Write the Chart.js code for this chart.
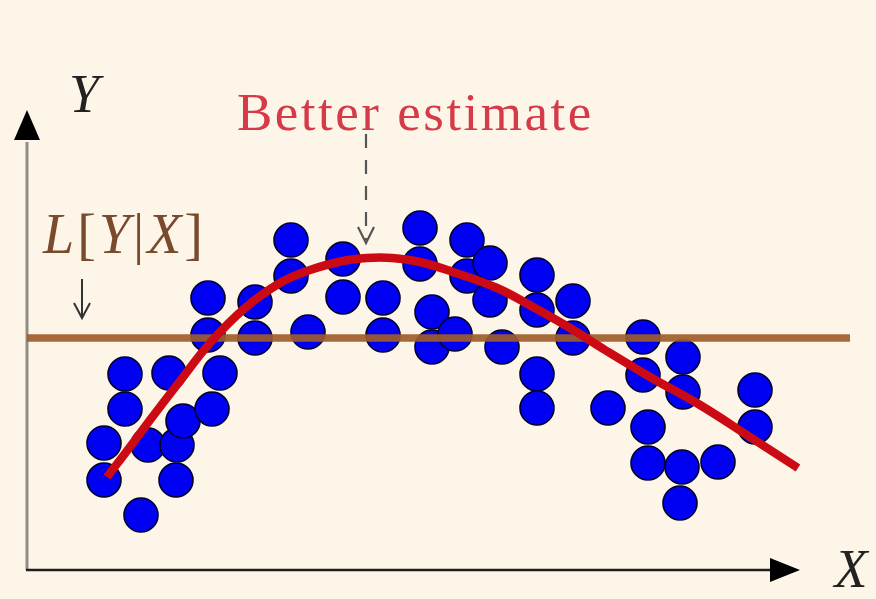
<!DOCTYPE html>
<html>
<head>
<meta charset="utf-8">
<script src="https://cdn.jsdelivr.net/npm/chart.js@4/dist/chart.umd.min.js"></script>
<style>
  html, body { margin: 0; padding: 0; background: #fdf6e8; }
  #wrap { width: 876px; height: 599px; position: relative; }
</style>
</head>
<body>
<div id="wrap"><canvas id="c"></canvas></div>
<script>
// Observations (X, Y)
const obsX = [98,98,77,77,114,121,142,150,149,156,185,193,
  181,181,228,228,264,264,281,316,316,356,356,
  393,393,405,405,428,440,440,463,463,475,
  510,510,510,510,546,546,581,
  616,616,656,656,728,728,621,621,655,653,691];
const obsY = [196,161,127,90,55,125,197,125,90,149,161,197,
  272,235,268,232,330,294,238,311,273,272,235,
  342,306,258,223,236,330,294,307,270,223,
  295,260,196,162,269,232,162,
  233,195,213,178,180,143,143,107,103,67,108];

// Better estimate curve
const curveX = [80,106,123,153,183,218,253,283,316,340,365,393,426,470,506,543,578,623,673,723,771];
const curveY = [93,127,150,189,227,262,287,300,309,312,312,308,298,282,263,242,220,193,165,133,102];

// Linear estimate L[Y|X]
const linX = [0, 823];
const linY = [232, 232];

// Axis extents
const xAxisEnd = 773;
const yAxisEnd = 460;

const toPts = (xs, ys) => xs.map((x, i) => ({x: x, y: ys[i]}));

const deco = {
  id: 'deco',
  beforeDraw(chart) {
    const ctx = chart.ctx;
    ctx.save();
    ctx.fillStyle = '#fdf6e8';
    ctx.fillRect(0, 0, chart.width, chart.height);
    ctx.restore();
  },
  beforeDatasetsDraw(chart) {
    const ctx = chart.ctx, xs = chart.scales.x, ys = chart.scales.y;
    const ox = xs.getPixelForValue(0), oy = ys.getPixelForValue(0);
    const yTip = ys.getPixelForValue(yAxisEnd);
    const xTip = xs.getPixelForValue(xAxisEnd);
    ctx.save();
    // Y axis
    ctx.strokeStyle = '#8e8c84';
    ctx.lineWidth = 3;
    ctx.beginPath(); ctx.moveTo(ox, oy); ctx.lineTo(ox, yTip + 32); ctx.stroke();
    ctx.fillStyle = '#000';
    ctx.beginPath(); ctx.moveTo(ox, yTip); ctx.lineTo(ox - 13, yTip + 30); ctx.lineTo(ox + 13, yTip + 30); ctx.closePath(); ctx.fill();
    // X axis
    ctx.strokeStyle = '#1e1e1e';
    ctx.lineWidth = 2.5;
    ctx.beginPath(); ctx.moveTo(ox - 1, oy); ctx.lineTo(xTip - 28, oy); ctx.stroke();
    ctx.beginPath(); ctx.moveTo(xTip, oy); ctx.lineTo(xTip - 30, oy - 12); ctx.lineTo(xTip - 30, oy + 12); ctx.closePath(); ctx.fill();
    ctx.restore();
  },
  afterDatasetsDraw(chart) {
    const ctx = chart.ctx;
    ctx.save();
    ctx.textBaseline = 'alphabetic';
    // Axis labels
    ctx.fillStyle = '#222';
    ctx.font = 'italic 54px "Liberation Serif"';
    ctx.textAlign = 'center';
    ctx.fillText('Y', 84, 112);
    ctx.fillText('X', 851, 587);
    // L[Y|X]
    ctx.textAlign = 'left';
    ctx.fillStyle = '#7a4a2c';
    const parts = [['L', true], ['[', false], ['Y', true], ['|', false], ['X', true], [']', false]];
    let px = 43;
    for (const [t, it] of parts) {
      ctx.font = (it ? 'italic ' : '') + '56px "Liberation Serif"';
      ctx.fillText(t, px, 253);
      px += ctx.measureText(t).width + 3;
    }
    // small down arrow
    ctx.strokeStyle = '#333';
    ctx.lineWidth = 2;
    ctx.beginPath(); ctx.moveTo(82, 279); ctx.lineTo(82, 318); ctx.stroke();
    ctx.beginPath(); ctx.moveTo(74, 303); ctx.lineTo(82, 318); ctx.lineTo(90, 303); ctx.stroke();
    // Better estimate
    ctx.fillStyle = '#d43a48';
    ctx.font = '53px "Liberation Serif"';
    ctx.letterSpacing = '2.5px';
    ctx.fillText('Better estimate', 237, 130);
    ctx.letterSpacing = '0px';
    // dashed arrow
    ctx.strokeStyle = '#555';
    ctx.lineWidth = 2.2;
    ctx.setLineDash([14, 12]);
    ctx.beginPath(); ctx.moveTo(366, 134); ctx.lineTo(366, 240); ctx.stroke();
    ctx.setLineDash([]);
    ctx.beginPath(); ctx.moveTo(358, 227); ctx.lineTo(366, 243); ctx.lineTo(374, 227); ctx.stroke();
    ctx.restore();
  }
};

new Chart(document.getElementById('c'), {
  type: 'scatter',
  data: {
    datasets: [
      {
        type: 'line',
        data: toPts(curveX, curveY),
        borderColor: '#cc0a14',
        borderWidth: 8.5,
        pointRadius: 0,
        tension: 0.4,
        fill: false,
        order: 1
      },
      {
        type: 'line',
        data: toPts(linX, linY),
        borderColor: 'rgba(158,92,42,0.92)',
        borderWidth: 7.5,
        pointRadius: 0,
        fill: false,
        order: 2
      },
      {
        data: toPts(obsX, obsY),
        backgroundColor: '#0000f2',
        borderColor: '#000028',
        borderWidth: 1.6,
        pointRadius: 17,
        order: 3
      }
    ]
  },
  options: {
    responsive: true,
    maintainAspectRatio: false,
    animation: false,
    events: [],
    layout: { padding: 0, autoPadding: false },
    plugins: { legend: { display: false }, tooltip: { enabled: false } },
    scales: {
      x: { type: 'linear', min: -27, max: 849, display: false },
      y: { type: 'linear', min: -29, max: 570, display: false }
    }
  },
  plugins: [deco]
});
</script>
</body>
</html>
